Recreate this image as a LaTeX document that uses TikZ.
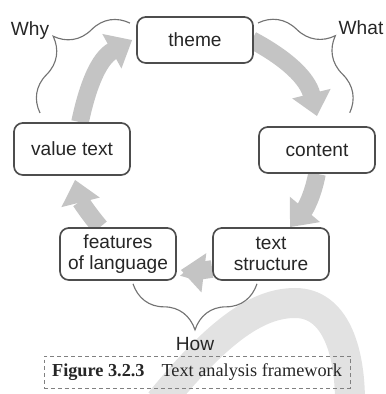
\documentclass[tikz,border=0pt]{standalone}
\usepackage{fontspec}
\setmainfont{Liberation Sans}
\newfontfamily\capfont{Liberation Serif}
\usetikzlibrary{arrows.meta,decorations.pathreplacing,backgrounds}
\definecolor{flowgray}{HTML}{C4C4C4}
\definecolor{boxgray}{HTML}{4D4D4D}
\definecolor{bracegray}{HTML}{737373}
\definecolor{markgray}{HTML}{E2E2E2}
\definecolor{txtgray}{HTML}{262626}
\begin{document}
\begin{tikzpicture}[box_node/.style={draw=boxgray,line width=1.2pt,rounded corners=0.22cm,fill=white,text=txtgray,align=center,minimum width=2.9cm,minimum height=1.2cm,font=\fontsize{13.6}{14.5}\selectfont},flow_arrow/.style={draw=flowgray,line width=0.44cm,-{Triangle[width=0.95cm,length=0.58cm]}},brace_line/.style={draw=bracegray,line width=0.8pt,decorate,decoration={brace,amplitude=#1}},label_node/.style={text=txtgray,font=\fontsize{13.6}{14.5}\selectfont}]

		\useasboundingbox (0,0) rectangle (9.65,9.85);

		\node[box_node,minimum height=1.15cm] (theme) at (4.875,8.85) {theme};
		\node[box_node,minimum height=1.15cm] (content) at (7.925,6.1) {content};
		\node[box_node,minimum height=1.3cm] (value) at (1.8,6.125) {value text};
		\node[box_node,minimum height=1.3cm] (features) at (2.95,3.5) {features\\of language};
		\node[box_node,minimum height=1.3cm] (structure) at (6.775,3.5) {text\\structure};

		\node[label_node] (why) at (0.75,9.075) {Why};
		\node[label_node] (what) at (9.025,9.15) {What};
		\node[label_node] (how) at (4.875,1.25) {How};

		\node[draw=gray,dash pattern=on 2.8pt off 2.1pt,line width=0.6pt,minimum width=7.65cm,minimum height=0.8cm,inner sep=0pt,font=\capfont\fontsize{13}{15}\selectfont,text=txtgray] (caption) at (4.925,0.55) {\textbf{Figure 3.2.3}\hspace{12pt}Text analysis framework};

		\begin{scope}[on background layer]
		% faint swoosh in the back
		\draw[markgray,line width=0.75cm] (4.0,-0.2) .. controls (5.375,1.475) and (6.375,2.275) .. (7.375,2.275) .. controls (8.375,2.275) and (8.75,1.1) .. (8.75,-0.2);

		\draw[flow_arrow] ([xshift=0.2cm]value.north) to[out=78,in=209] ([xshift=-0.1cm]theme.west);
		\draw[flow_arrow] ([xshift=-0.05cm]theme.east) to[out=-28,in=104] ([yshift=0.25cm]content.north);
		\draw[flow_arrow] (content.south) to[out=-101,in=50] ([xshift=0.475cm]structure.north);
		\draw[flow_arrow] ([yshift=-0.375cm]structure.west) to[out=188,in=-7] ([xshift=0.1cm,yshift=-0.4cm]features.east);
		\draw[flow_arrow] ([xshift=-0.45cm]features.north) to[out=130,in=-76] ([xshift=0.075cm,yshift=-0.1cm]value.south);
		\end{scope}

		\draw[brace_line=1.125cm] (1.0,7.025) -- (3.25,9.275);
		\draw[brace_line=1.125cm] (6.45,9.275) -- (8.75,7.025);
		\draw[brace_line=1.15cm] ([xshift=-0.35cm,yshift=-0.075cm]structure.south) -- ([xshift=0.375cm,yshift=-0.075cm]features.south);
		\end{tikzpicture}
\end{document}
